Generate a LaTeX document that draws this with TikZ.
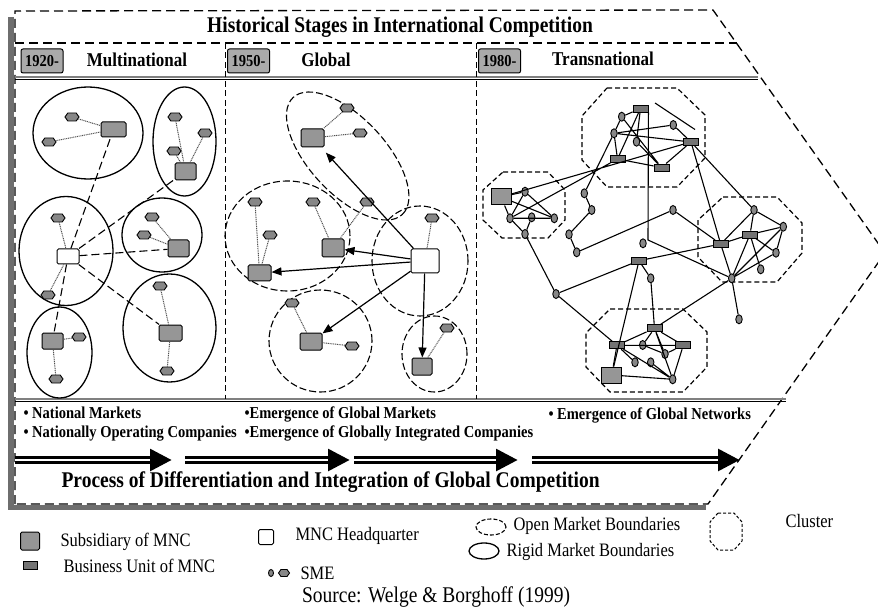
\documentclass[tikz,border=0pt]{standalone}
\usepackage{fontspec}
\setmainfont{Liberation Serif}
\usepackage{graphicx}
\usetikzlibrary{arrows.meta,shapes.symbols,shapes.geometric}

\definecolor{subgray}{RGB}{150,150,150}
\definecolor{smegray}{RGB}{135,135,135}
\definecolor{bugray}{RGB}{115,115,115}
\definecolor{shadegray}{RGB}{110,110,110}
\definecolor{yeargray}{RGB}{170,170,170}
\definecolor{tiegray}{RGB}{80,80,80}

% slightly taller lettering
\newcommand{\vst}[1]{\scalebox{1}[1.15]{#1}}

\begin{document}
\begin{tikzpicture}[x=1pt,y=-1pt,
  edgedash/.style={line width=1.3pt, dash pattern=on 9pt off 5pt},
  divider/.style={line width=1pt, dash pattern=on 6pt off 3.5pt},
  hrule/.style={line width=1.1pt},
  yearbox/.style={draw, fill=yeargray, rounded corners=2pt, line width=1pt, minimum width=42pt, minimum height=24pt, inner sep=0pt, font=\fontsize{14.5}{16}\selectfont\bfseries},
  paneltitle/.style={anchor=base, font=\fontsize{17}{19}\selectfont\bfseries},
  sub/.style={draw, fill=subgray, rounded corners=1.5pt, line width=1pt, minimum width=23pt, minimum height=16pt, inner sep=0pt},
  hq/.style={draw, fill=white, rounded corners=1.5pt, line width=1pt, inner sep=0pt},
  sme/.style={draw, fill=smegray, shape=signal, signal to=east and west, signal pointer angle=110, minimum width=14pt, minimum height=8pt, inner sep=0pt, line width=0.9pt},
  smallsme/.style={draw, fill=smegray, ellipse, minimum width=6.5pt, minimum height=9pt, inner sep=0pt, line width=0.9pt},
  bu/.style={draw, fill=bugray, rectangle, minimum width=15pt, minimum height=7pt, inner sep=0pt, line width=0.9pt},
  bigsub/.style={draw, fill=subgray, rectangle, minimum width=20pt, minimum height=16pt, inner sep=0pt, line width=1pt},
  rigid/.style={line width=1.3pt},
  openb/.style={line width=1.1pt, dash pattern=on 7pt off 3pt},
  tie/.style={line width=1pt, tiegray, dash pattern=on 1pt off 0.8pt},
  hqlink/.style={line width=1.1pt, dash pattern=on 8pt off 4pt},
  pusharrow/.style={line width=1.2pt, -{Triangle[length=10pt,width=8pt]}},
  net/.style={line width=1.1pt},
  clusterline/.style={line width=1.2pt, dash pattern=on 5pt off 3pt},
  bigarrow/.style={line width=8pt, -{Triangle[length=22pt,width=21pt]}},
  stripe/.style={white, line width=1.6pt},
  bullettext/.style={anchor=base west, font=\fontsize{14.5}{16}\selectfont\bfseries},
  legtext/.style={anchor=west, font=\fontsize{16.5}{18}\selectfont},
]
\useasboundingbox (0,0) rectangle (878,612);

% ---------- outer arrow-shaped frame ----------
\fill[shadegray] (8,17) rectangle (13.5,510);
\fill[shadegray] (8,505) rectangle (706,510);
\coordinate (fTL) at (15,11);
\coordinate (fTR) at (713,10);
\coordinate (fTip) at (885,253);
\coordinate (fBR) at (708,504);
\coordinate (fBL) at (15,504);
\draw[edgedash] (fBL) -- (fTL) -- (fTR) -- (fTip) -- (fBR) -- cycle;
\draw[edgedash] (15,43) -- (737,43);

% rules above and below the three panels
\draw[gray, line width=1.6pt] (15,77) -- (758,77);
\draw[hrule] (15,79.5) -- (758,79.5);
\draw[gray, line width=1.6pt] (15,399) -- (786,399);
\draw[hrule] (15,401.5) -- (786,401.5);

% panel dividers
\draw[divider] (225,43) -- (225,399);
\draw[divider] (476,43) -- (476,399);

% ---------- headings ----------
\node[anchor=base, font=\fontsize{19.5}{22}\selectfont\bfseries] (title) at (400,33) {\vst{Historical Stages in International Competition}};
\node[yearbox] (y1920) at (42,61) {\vst{1920-}};
\node[paneltitle] (tMulti) at (137,66.5) {\vst{Multinational}};
\node[yearbox] (y1950) at (248.5,61) {\vst{1950-}};
\node[paneltitle] (tGlobal) at (326,66.5) {\vst{Global}};
\node[yearbox] (y1980) at (499.5,61) {\vst{1980-}};
\node[paneltitle] (tTrans) at (603,66) {\vst{Transnational}};

% ---------- Multinational: rigid national markets ----------
\draw[rigid] (88,133) ellipse [x radius=55pt, y radius=46pt];
\draw[rigid] (184.5,141.5) ellipse [x radius=31.5pt, y radius=54.5pt];
\draw[rigid] (66,251) ellipse [x radius=47pt, y radius=54.5pt];
\draw[rigid] (162,235) ellipse [x radius=40pt, y radius=37pt];
\draw[rigid] (59.5,352.5) ellipse [x radius=32.5pt, y radius=45.5pt];
\draw[rigid] (169.5,328) ellipse [x radius=46.5pt, y radius=54pt];

\node[hq, minimum width=22pt, minimum height=15pt] (hq1) at (68,256.5) {};
\node[sub, minimum width=25pt, minimum height=15pt] (sA) at (113.5,129.5) {};
\node[sub, minimum width=21pt, minimum height=17pt] (sB) at (185.5,171.5) {};
\node[sub, minimum width=21pt, minimum height=17pt] (sD) at (178.5,248.5) {};
\node[sub] (sF) at (170.5,333) {};
\node[sub, minimum width=21pt] (sE) at (52.5,341) {};

\node[sme] (a1) at (72,117) {};
\node[sme] (a2) at (49,142) {};
\node[sme] (b1) at (175,117) {};
\node[sme] (b2) at (205,133) {};
\node[sme] (b3) at (174,151) {};
\node[sme] (c1) at (58,218) {};
\node[sme] (c2) at (48,295) {};
\node[sme] (d1) at (152,217) {};
\node[sme] (d2) at (144,235) {};
\node[sme] (e1) at (79,337) {};
\node[sme] (e2) at (56,379) {};
\node[sme] (f1) at (160,286) {};
\node[sme] (f2) at (167,371) {};

\draw[tie] (a1) -- (sA) (a2) -- (sA);
\draw[tie] (b1) -- (sB) (b2) -- (sB) (b3) -- (sB);
\draw[tie] (c1) -- (hq1) (c2) -- (hq1);
\draw[tie] (d1) -- (sD) (d2) -- (sD);
\draw[tie] (e1) -- (sE) (e2) -- (sE);
\draw[tie] (f1) -- (sF) (f2) -- (sF);

\draw[hqlink] (hq1) -- (sA);
\draw[hqlink] (hq1) -- (sB);
\draw[hqlink] (hq1) -- (sD);
\draw[hqlink] (hq1) -- (sF);
\draw[hqlink] (hq1) -- (sE);

% ---------- Global: open markets ----------
\draw[openb, rotate around={-47:(347.7,156)}] (347.7,156) ellipse [x radius=80pt, y radius=38pt];
\draw[openb] (287.5,236) ellipse [x radius=62.5pt, y radius=55pt];
\draw[openb] (420,261) ellipse [x radius=48pt, y radius=55pt];
\draw[openb] (320.5,341) ellipse [x radius=51.5pt, y radius=51pt];
\draw[openb] (434.5,354) ellipse [x radius=32.5pt, y radius=38pt];

\node[hq, minimum width=28pt, minimum height=24pt] (hq2) at (425,261) {};
\node[sub, minimum height=18pt] (gTop) at (312.5,138) {};
\node[sub, minimum width=22pt, minimum height=18pt] (gMid) at (333,248) {};
\node[sub] (gLeft) at (259.5,273) {};
\node[sub, minimum width=22pt, minimum height=17pt] (gBL) at (311,341.5) {};
\node[sub, minimum width=20pt, minimum height=17pt] (gBR) at (422,366.5) {};

\node[sme] (m1) at (347,108) {};
\node[sme] (m2) at (360,133) {};
\node[sme] (m3) at (255,202) {};
\node[sme] (m4) at (313,202) {};
\node[sme] (m5) at (367,202) {};
\node[sme] (m6) at (270,235) {};
\node[sme] (m7) at (432,218) {};
\node[sme] (m8) at (292,303) {};
\node[sme] (m9) at (352,346) {};
\node[sme] (m10) at (447,328) {};

\draw[tie] (m1) -- (gTop) (m2) -- (gTop);
\draw[tie] (m3) -- (gLeft) (m6) -- (gLeft);
\draw[tie] (m4) -- (gMid) (m5) -- (gMid);
\draw[tie] (m7) -- (hq2);
\draw[tie] (m8) -- (gBL) (m9) -- (gBL);
\draw[tie] (m10) -- (gBR);

\draw[pusharrow, shorten >=7pt] (hq2) -- (gTop);
\draw[pusharrow] (hq2) -- (gMid);
\draw[pusharrow] (hq2) -- (gLeft);
\draw[pusharrow] (hq2) -- (gBL);
\draw[pusharrow] (hq2) -- (gBR);

% ---------- Transnational: clusters and network ----------
\draw[clusterline] (607,88) -- (677,88) -- (705,115) -- (705,158) -- (677,187) -- (607,187) -- (582,160) -- (582,116) -- cycle;
\draw[clusterline] (503,172) -- (548,172) -- (565,190) -- (565,220) -- (548,238) -- (502,238) -- (483,220) -- (483,190) -- cycle;
\draw[clusterline] (723,197) -- (777,197) -- (802,223) -- (802,253) -- (777,282) -- (722,282) -- (698,257) -- (698,220) -- cycle;
\draw[clusterline] (610,309) -- (683,309) -- (707,332) -- (707,367) -- (683,392) -- (610,392) -- (586,367) -- (586,333) -- cycle;

\node[bu] (T1) at (640.5,108.5) {};
\node[bu] (T2) at (691,142) {};
\node[bu] (T3) at (617.5,159) {};
\node[bu] (T4) at (661.5,167.5) {};
\node[smallsme] (ta) at (621.7,116.7) {};
\node[smallsme] (tb) at (614,133.3) {};
\node[smallsme] (tc) at (636.5,141.7) {};
\node[smallsme] (td) at (673.3,125) {};
\node[bigsub] (L0) at (501,197) {};
\node[smallsme] (la) at (525,191.7) {};
\node[smallsme] (lb) at (510,218.3) {};
\node[smallsme] (lc) at (531.7,217.3) {};
\node[smallsme] (ld) at (554.3,218.3) {};
\node[smallsme] (le) at (525,234) {};
\node[smallsme] (o1) at (584.3,193.3) {};
\node[smallsme] (o2) at (591.7,210) {};
\node[smallsme] (o3) at (569,234.3) {};
\node[smallsme] (o4) at (576.7,252.3) {};
\node[smallsme] (o5) at (556,294) {};
\node[smallsme] (mA) at (673,210) {};
\node[smallsme] (mB) at (643,243.3) {};
\node[bu] (M1) at (639,260.7) {};
\node[smallsme] (mC) at (650.7,278.3) {};
\node[bu] (R1) at (720.7,244) {};
\node[bu] (R2) at (750,234.5) {};
\node[smallsme] (ra) at (754,210) {};
\node[smallsme] (rb) at (783.3,226.7) {};
\node[smallsme] (rc) at (776,252.7) {};
\node[smallsme] (rd) at (760.7,269.3) {};
\node[smallsme] (re) at (731.7,278.3) {};
\node[smallsme] (rf) at (739,319.3) {};
\node[bu] (B1) at (654.5,328.3) {};
\node[bu] (B2) at (617,345.3) {};
\node[bu] (B3) at (683.3,345.3) {};
\node[smallsme] (ba) at (642.7,345) {};
\node[smallsme] (bb) at (665,354) {};
\node[smallsme] (bc) at (635,362.3) {};
\node[smallsme] (bd) at (650.7,362.3) {};
\node[smallsme] (be) at (672.7,379.3) {};
\node[bigsub] (B0) at (611.7,375) {};

\coordinate (kink) at (648,240);
\coordinate (fa) at (655,103);
\coordinate (fb) at (695,129.5);

% top cluster
\draw[net] (T1) -- (ta) (ta) -- (tb) (tb) -- (T3) (ta) -- (T4) (T1) -- (T3)
  (T1) -- (tc) (tc) -- (T4) (T3) -- (T4) (T2) -- (T4) (td) -- (T2) (tb) -- (T2)
  (tb) -- (td) (fa) -- (fb);
% left cluster
\draw[net] (L0) -- (la) (L0) -- (ld) (L0) -- (lb) (la) -- (lb) (la) -- (ld)
  (lb) -- (ld) (lb) -- (le) (lc) -- (le);
% long links between clusters
\draw[net] (L0) -- (T2) (lb) -- (T3) (tb) -- (o1) (o1) -- (o2) (o2) -- (o3)
  (o3) -- (o4) (o4) -- (mA) (le) -- (o5) (o5) -- (M1) (o5) -- (B2)
  (T2) -- (ra) (T2) -- (R1) (mA) -- (R1) (M1) -- (R1) (M1) -- (mC)
  (mC) -- (B1) (M1) -- (B0) (B0) -- (be);
\draw[net] (T1.south east) -- (kink) -- (re);
% right cluster
\draw[net] (ra) -- (R2) (ra) -- (rb) (ra) -- (R1) (R1) -- (R2) (R2) -- (rb)
  (R2) -- (rd) (R2) -- (rc) (rb) -- (rc) (rb) -- (re) (rc) -- (re) (R2) -- (re)
  (R1) -- (re) (re) -- (rf) (re) -- (B1);
% bottom cluster
\draw[net] (B1) -- (B2) (B1) -- (B3) (B2) -- (B3) (B2) -- (bc) (B2) -- (be)
  (B2) -- (B0) (ba) -- (bb) (B1) -- (bb) (B1) -- (be) (bd) -- (be) (B3) -- (be)
  (B3) -- (bb) (B1) -- (ba);

% ---------- stage notes ----------
\node[bullettext] (n1) at (20,418) {\vst{• National Markets}};
\node[bullettext] (n2) at (20,437) {\vst{• Nationally Operating Companies}};
\node[bullettext] (n3) at (241,418) {\vst{•Emergence of Global Markets}};
\node[bullettext] (n4) at (241,437) {\vst{•Emergence of Globally Integrated Companies}};
\node[bullettext] (n5) at (545,419) {\vst{• Emergence of Global Networks}};

% ---------- process arrows ----------
\coordinate (r0) at (15,460);  \coordinate (s1) at (150,460); \coordinate (r1) at (172,460);
\coordinate (r2) at (185,460); \coordinate (s2) at (328,460); \coordinate (r3) at (350,460);
\coordinate (r4) at (354,460); \coordinate (s3) at (496,460); \coordinate (r5) at (518,460);
\coordinate (r6) at (532,460); \coordinate (s4) at (718,460); \coordinate (r7) at (740,460);
\draw[bigarrow] (r0) -- (r1);
\draw[bigarrow] (r2) -- (r3);
\draw[bigarrow] (r4) -- (r5);
\draw[bigarrow] (r6) -- (r7);
\draw[stripe] (r0) -- (s1) (r2) -- (s2) (r4) -- (s3) (r6) -- (s4);

\node[anchor=base west, font=\fontsize{19.5}{22}\selectfont\bfseries] (process) at (58,487) {\vst{Process of Differentiation and Integration of Global Competition}};

% ---------- legend ----------
\node[sub, minimum width=19pt, minimum height=18pt] (kSub) at (30,541) {};
\node[legtext] (kSubT) at (57,542) {\vst{Subsidiary of MNC}};
\node[bu, minimum width=14pt, minimum height=8pt] (kBu) at (30,565) {};
\node[legtext] (kBuT) at (60,566) {\vst{Business Unit of MNC}};
\node[hq, minimum width=15pt, minimum height=15pt] (kHq) at (266,537) {};
\node[legtext] (kHqT) at (292,536) {\vst{MNC Headquarter}};
\node[smallsme, minimum width=5pt, minimum height=7pt] (kSme1) at (271,573) {};
\node[sme, minimum width=11pt, minimum height=7pt] (kSme2) at (284,573) {};
\node[legtext] (kSmeT) at (297,573) {\vst{SME}};
\draw[openb, dash pattern=on 4pt off 2pt] (491,527) ellipse [x radius=15pt, y radius=8pt];
\node[legtext] (kOpenT) at (510,526) {\vst{Open Market Boundaries}};
\draw[rigid] (484,551) ellipse [x radius=15pt, y radius=8pt];
\node[legtext] (kRigidT) at (503,552) {\vst{Rigid Market Boundaries}};
\draw[clusterline, line width=1pt, dash pattern=on 3pt off 2pt] (718,513) -- (734,513) -- (742,522) -- (742,541) -- (734,550) -- (718,550) -- (710,541) -- (710,522) -- cycle;
\node[legtext] (kClusT) at (782,521) {\vst{Cluster}};

\node[anchor=center, font=\fontsize{19.5}{22}\selectfont] (source) at (436,597) {\vst{Source: Welge \& Borghoff (1999)}};
\end{tikzpicture}
\end{document}
